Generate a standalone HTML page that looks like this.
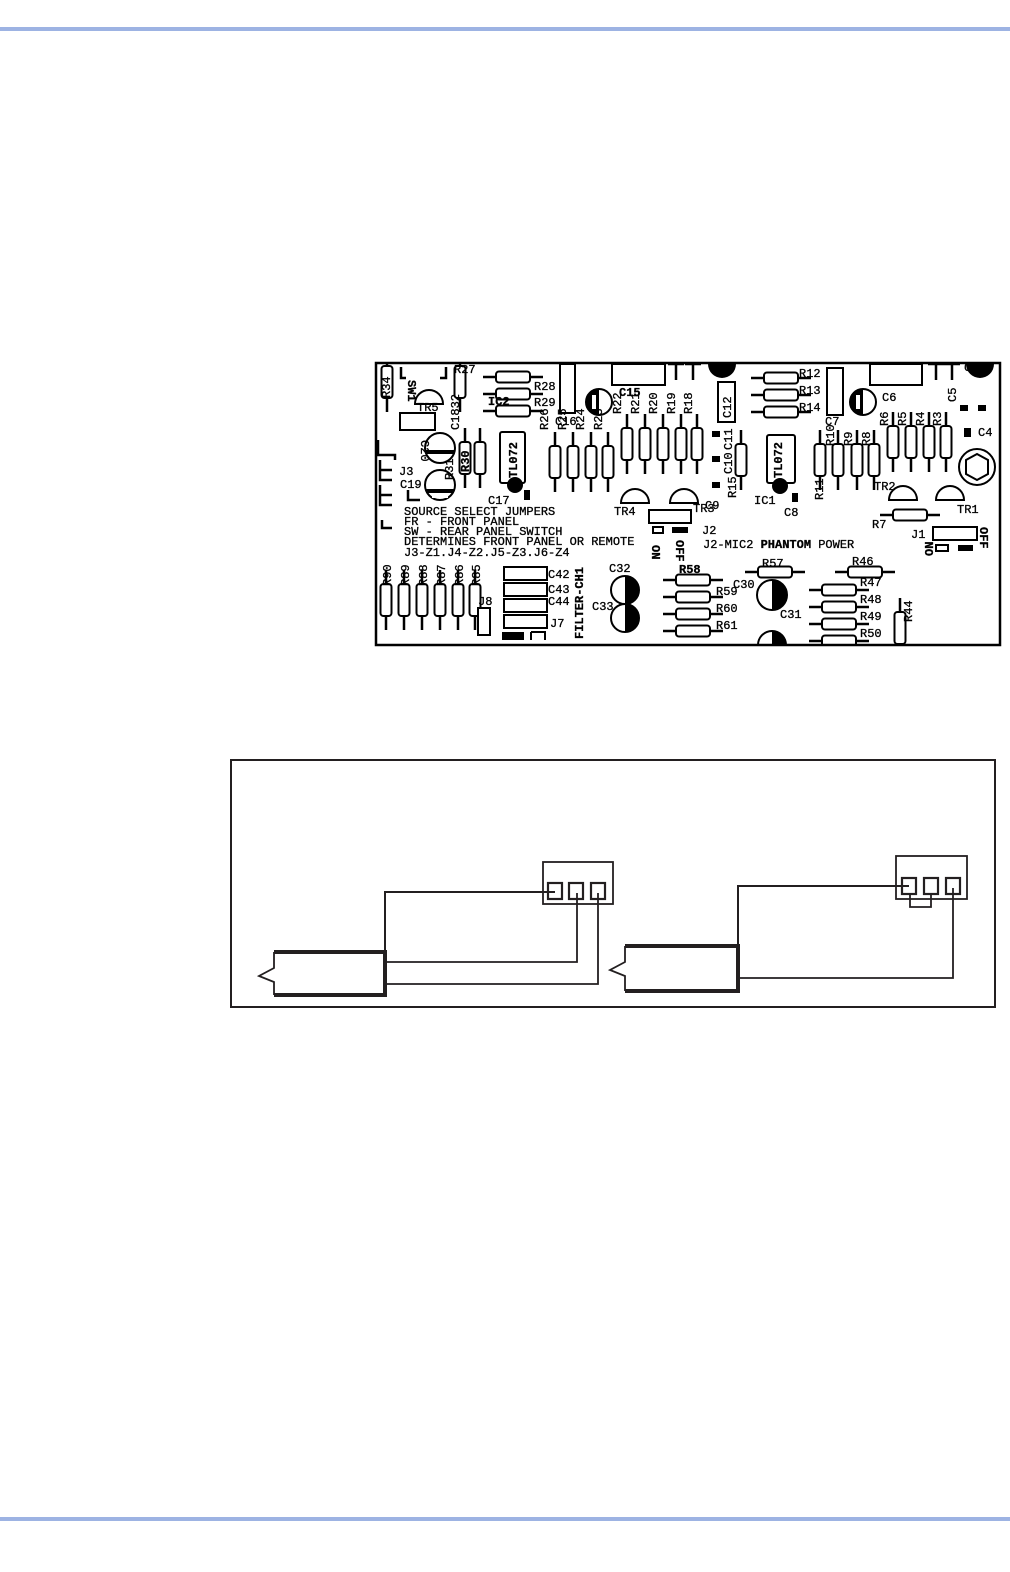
<!DOCTYPE html>
<html><head><meta charset="utf-8"><style>
html,body{margin:0;padding:0;background:#fff;}
body{width:1010px;height:1572px;position:relative;overflow:hidden;}
.bar{position:absolute;left:0;width:1010px;height:4px;background:#9db3e3;}
svg{position:absolute;left:0;top:0;}
text{font-family:"Liberation Mono",monospace;font-size:12px;fill:#000;stroke:#000;stroke-width:0.3;}
</style></head><body>
<div class="bar" style="top:27px"></div>
<div class="bar" style="top:1517px"></div>
<svg width="1010" height="1572" viewBox="0 0 1010 1572">
<defs>
<clipPath id="pcb"><rect x="376" y="363" width="624" height="282"/></clipPath>
<g id="rv"><line x1="0" y1="-30" x2="0" y2="30" stroke="#000" stroke-width="2.5"/><rect x="-5.5" y="-16" width="11" height="32" rx="3" fill="#fff" stroke="#000" stroke-width="2"/></g>
<g id="rh"><line x1="-30" y1="0" x2="30" y2="0" stroke="#000" stroke-width="2.5"/><rect x="-17" y="-5.5" width="34" height="11" rx="3" fill="#fff" stroke="#000" stroke-width="2"/></g>
<g id="tr"><path d="M-14,0 A14,14 0 0 1 14,0 Z" fill="#fff" stroke="#000" stroke-width="2"/></g>
</defs>
<g clip-path="url(#pcb)">
<g fill="none" stroke="#000" stroke-width="2.5">
<path d="M401,367 V378 H406"/><path d="M440,378 H446 V367"/>
<path d="M378,440 V455 H395 V460"/><path d="M380,460 V480 H392"/><path d="M380,470 H392"/>
<path d="M380,485 V505 H392"/><path d="M380,495 H392"/>
<path d="M382,520 V528 H392"/>
<path d="M408,490 V500 H420"/>
<path d="M668,364 H684 M676,364 V380"/><path d="M685,364 H701 M693,364 V380"/>
<path d="M928,364 H944 M936,364 V380"/><path d="M944,364 H960 M952,364 V380"/>
</g>
<use href="#rv" x="387" y="382"/>
<use href="#rv" x="460" y="382"/>
<use href="#rv" x="465" y="458"/><use href="#rv" x="480" y="458"/>
<use href="#rv" x="555" y="462"/><use href="#rv" x="573" y="462"/><use href="#rv" x="591" y="462"/><use href="#rv" x="608" y="462"/>
<use href="#rv" x="627" y="444"/><use href="#rv" x="645" y="444"/><use href="#rv" x="663" y="444"/><use href="#rv" x="681" y="444"/><use href="#rv" x="697" y="444"/>
<use href="#rv" x="741" y="460"/>
<use href="#rv" x="820" y="460"/><use href="#rv" x="838" y="460"/><use href="#rv" x="857" y="460"/><use href="#rv" x="874" y="460"/>
<use href="#rv" x="893" y="442"/><use href="#rv" x="911" y="442"/><use href="#rv" x="929" y="442"/><use href="#rv" x="946" y="442"/>
<use href="#rv" x="386" y="600"/><use href="#rv" x="404" y="600"/><use href="#rv" x="422" y="600"/><use href="#rv" x="440" y="600"/><use href="#rv" x="458" y="600"/><use href="#rv" x="475" y="600"/>
<use href="#rv" x="900" y="628"/>
<use href="#rh" x="513" y="377"/><use href="#rh" x="513" y="394"/><use href="#rh" x="513" y="411"/>
<use href="#rh" x="781" y="378"/><use href="#rh" x="781" y="395"/><use href="#rh" x="781" y="412"/>
<use href="#rh" x="693" y="580"/><use href="#rh" x="693" y="597"/><use href="#rh" x="693" y="614"/><use href="#rh" x="693" y="631"/>
<use href="#rh" x="775" y="572"/><use href="#rh" x="865" y="572"/>
<use href="#rh" x="910" y="515"/>
<use href="#rh" x="839" y="590"/><use href="#rh" x="839" y="607"/><use href="#rh" x="839" y="624"/><use href="#rh" x="839" y="641"/>
<use href="#tr" x="429" y="404"/><use href="#tr" x="635" y="503"/><use href="#tr" x="684" y="503"/><use href="#tr" x="903" y="500"/><use href="#tr" x="950" y="500"/>
<g stroke="#000" stroke-width="2" fill="#fff">
<rect x="400" y="413" width="35" height="17"/>
<rect x="560" y="364" width="15" height="49"/>
<rect x="612" y="364" width="53" height="21"/>
<rect x="718" y="382" width="17" height="40"/>
<rect x="827" y="368" width="16" height="47"/>
<rect x="870" y="364" width="52" height="21"/>
<rect x="649" y="510" width="42" height="13"/>
<rect x="933" y="527" width="44" height="13"/>
<rect x="504" y="567" width="43" height="13"/><rect x="504" y="583" width="43" height="13"/><rect x="504" y="599" width="43" height="13"/><rect x="504" y="615" width="43" height="13"/>
<rect x="478" y="608" width="12" height="27"/>
<rect x="653" y="527" width="10" height="6"/><rect x="936" y="545" width="12" height="6"/>
<rect x="500" y="432" width="25" height="51" rx="2"/>
<rect x="767" y="435" width="28" height="48" rx="2"/>
<circle cx="440" cy="448" r="15"/><circle cx="440" cy="485" r="15"/>
<circle cx="599" cy="402" r="13"/><circle cx="863" cy="402" r="13"/>
<circle cx="625" cy="590" r="14"/><circle cx="625" cy="618" r="14"/>
<circle cx="772" cy="595" r="15"/>
<path d="M758,645 A14,14 0 0 1 786,645"/>
<circle cx="977" cy="467" r="18"/>
<polygon points="977,454 988,460 988,474 977,480 966,474 966,460"/>
<path d="M531,632 H545 V640 M531,632 V640" fill="none"/>
</g>
<g fill="#000">
<rect x="426" y="450" width="28" height="4"/>
<rect x="426" y="489" width="28" height="4"/><rect x="432" y="493" width="16" height="5" fill="#fff"/>
<path d="M599,389 A13,13 0 0 0 599,415 Z"/><rect x="592" y="395" width="4" height="14" fill="#fff"/>
<path d="M863,389 A13,13 0 0 0 863,415 Z"/><rect x="856" y="395" width="4" height="14" fill="#fff"/>
<path d="M625,576 A14,14 0 0 1 625,604 Z"/><path d="M625,604 A14,14 0 0 1 625,632 Z"/>
<path d="M772,580 A15,15 0 0 1 772,610 Z"/><path d="M772,631 A14,14 0 0 1 786,645 H772 Z"/>
<path d="M708,364 A14,14 0 0 0 736,364 Z"/><path d="M966,364 A14,14 0 0 0 994,364 Z"/>
<circle cx="515" cy="485" r="8"/><circle cx="780" cy="486" r="8"/>
<rect x="524" y="490" width="6" height="10"/>
<rect x="712" y="431" width="8" height="6"/><rect x="712" y="456" width="8" height="6"/><rect x="712" y="482" width="8" height="6"/>
<rect x="792" y="493" width="6" height="9"/>
<rect x="672" y="527" width="16" height="6"/><rect x="958" y="545" width="15" height="6"/>
<rect x="960" y="405" width="8" height="6"/><rect x="978" y="405" width="8" height="6"/>
<rect x="964" y="428" width="7" height="9"/>
<rect x="502" y="632" width="22" height="8"/>
</g>
</g>
<rect x="376" y="363" width="624" height="282" stroke="#000" stroke-width="2.5" fill="none"/>
<g>
<text x="454" y="373">R27</text>
<text transform="translate(390,398) rotate(-90)">R34</text>
<text transform="translate(408,380) rotate(90)" font-weight="bold">SW1</text>
<text x="417" y="411" font-size="11">TR5</text>
<text transform="translate(459,430) rotate(-90)">C1832</text>
<text transform="translate(421,440) rotate(90)">C20</text>
<text transform="translate(453,480) rotate(-90)">R31</text>
<text transform="translate(469,472) rotate(-90)" font-weight="bold">R30</text>
<text x="399" y="475" font-size="17">J3</text>
<text x="400" y="488" font-size="13">C19</text>
<text x="488" y="405" font-size="13" font-weight="bold">IC2</text>
<text transform="translate(517,478) rotate(-90)" font-size="13" font-weight="bold">TL072</text>
<text transform="translate(782,478) rotate(-90)" font-size="13" font-weight="bold">TL072</text>
<text x="488" y="504">C17</text>
<text x="534" y="390">R28</text><text x="534" y="406">R29</text>
<text x="555" y="425">C16</text>
<text x="619" y="396" font-weight="bold" font-size="13">C15</text>
<text transform="translate(548,430) rotate(-90)">R26</text><text transform="translate(566,430) rotate(-90)">R25</text><text transform="translate(584,430) rotate(-90)">R24</text><text transform="translate(602,430) rotate(-90)">R23</text>
<text transform="translate(621,414) rotate(-90)">R22</text><text transform="translate(639,414) rotate(-90)">R21</text><text transform="translate(657,414) rotate(-90)">R20</text><text transform="translate(675,414) rotate(-90)">R19</text><text transform="translate(692,414) rotate(-90)">R18</text>
<text transform="translate(731,418) rotate(-90)">C12</text>
<text transform="translate(732,450) rotate(-90)">C11</text>
<text transform="translate(732,474) rotate(-90)">C10</text>
<text transform="translate(736,498) rotate(-90)">R15</text>
<text x="705" y="509">C9</text>
<text x="693" y="512" font-size="11">TR3</text>
<text x="614" y="515" font-size="11">TR4</text>
<text x="702" y="534" font-size="13">J2</text>
<text x="754" y="504" font-size="13">IC1</text>
<text x="784" y="516" font-size="13">C8</text>
<text x="799" y="377">R12</text><text x="799" y="394">R13</text><text x="799" y="411">R14</text>
<text x="825" y="425" font-size="13">C7</text>
<text x="882" y="401" font-size="13">C6</text>
<text x="964" y="371" font-size="13">C3</text>
<text transform="translate(956,402) rotate(-90)">C5</text>
<text x="978" y="436" font-size="13">C4</text>
<text transform="translate(834,446) rotate(-90)">R10</text><text transform="translate(852,446) rotate(-90)">R9</text><text transform="translate(870,446) rotate(-90)">R8</text>
<text transform="translate(823,500) rotate(-90)">R11</text>
<text transform="translate(888,426) rotate(-90)">R6</text><text transform="translate(906,426) rotate(-90)">R5</text><text transform="translate(924,426) rotate(-90)">R4</text><text transform="translate(941,426) rotate(-90)">R3</text>
<text x="874" y="490" font-size="11">TR2</text>
<text x="957" y="513" font-size="11">TR1</text>
<text x="872" y="528" font-size="11">R7</text>
<text x="911" y="538" font-size="13">J1</text>
<text transform="translate(933,556) rotate(-90)" font-weight="bold">ON</text>
<text transform="translate(980,527) rotate(90)" font-weight="bold">OFF</text>
<text transform="translate(652,545) rotate(90)" font-weight="bold">ON</text>
<text transform="translate(676,540) rotate(90)" font-weight="bold">OFF</text>
<g font-size="11.6">
<text x="404" y="515" font-size="11.6">SOURCE SELECT JUMPERS</text>
<text x="404" y="525" font-size="11.6">FR - FRONT PANEL</text>
<text x="404" y="535" font-size="11.6">SW - REAR PANEL SWITCH</text>
<text x="404" y="545" font-size="11.6">DETERMINES FRONT PANEL OR REMOTE</text>
<text x="404" y="556" font-size="11.6">J3-Z1.J4-Z2.J5-Z3.J6-Z4</text>
</g>
<text x="703" y="548" font-size="12.5">J2-MIC2 <tspan font-weight="bold">PHANTOM</tspan> POWER</text>
<text transform="translate(391,586) rotate(-90)">R90</text><text transform="translate(409,586) rotate(-90)">R89</text><text transform="translate(427,586) rotate(-90)">R88</text><text transform="translate(445,586) rotate(-90)">R87</text><text transform="translate(463,586) rotate(-90)">R86</text><text transform="translate(480,586) rotate(-90)">R85</text>
<text x="548" y="578" font-size="13">C42</text><text x="548" y="593" font-size="13">C43</text><text x="548" y="605" font-size="13">C44</text>
<text x="550" y="627" font-size="13">J7</text>
<text x="478" y="605" font-size="13">J8</text>
<text transform="translate(583,639) rotate(-90)" font-size="13" font-weight="bold">FILTER-CH1</text>
<text x="609" y="572" font-size="13">C32</text>
<text x="592" y="610" font-size="13">C33</text>
<text x="679" y="573" font-weight="bold" font-size="13">R58</text>
<text x="716" y="595" font-size="13">R59</text><text x="716" y="612" font-size="13">R60</text><text x="716" y="629" font-size="13">R61</text>
<text x="762" y="567" font-size="13">R57</text><text x="852" y="565" font-size="13">R46</text>
<text x="733" y="588" font-size="13">C30</text><text x="780" y="618" font-size="13">C31</text>
<text x="860" y="586" font-size="13">R47</text><text x="860" y="603" font-size="13">R48</text><text x="860" y="620" font-size="13">R49</text><text x="860" y="637" font-size="13">R50</text>
<text transform="translate(912,622) rotate(-90)">R44</text>
</g>
<g fill="none" stroke="#231f20">
<rect x="231" y="760" width="764" height="247" stroke-width="2"/>
<rect x="543" y="862" width="70" height="42" stroke-width="1.8"/>
<rect x="548" y="883" width="14" height="16" stroke-width="2.2"/>
<rect x="569" y="883" width="14" height="16" stroke-width="2.2"/>
<rect x="591" y="883" width="14" height="16" stroke-width="2.2"/>
<path d="M555,892 H385 V952" stroke-width="2"/>
<path d="M577,893 V962 H385" stroke-width="1.8"/>
<path d="M598,893 V984 H385" stroke-width="1.8"/>
<path d="M274,952 H385 V995 H274" stroke-width="4"/>
<path d="M274,952 V968 L259,976 L274,982 V995" stroke-width="1.8"/>
<rect x="896" y="856" width="71" height="43" stroke-width="1.8"/>
<rect x="902" y="878" width="14" height="16" stroke-width="2.2"/>
<rect x="924" y="878" width="14" height="16" stroke-width="2.2"/>
<rect x="946" y="878" width="14" height="16" stroke-width="2.2"/>
<path d="M909,886 H738 V946" stroke-width="2"/>
<path d="M910,894 V907 H931 V894" stroke-width="1.8"/>
<path d="M953,888 V978 H738" stroke-width="1.8"/>
<path d="M625,946 H738 V991 H625" stroke-width="4"/>
<path d="M625,946 V962 L610,970 L625,976 V991" stroke-width="1.8"/>
</g>
</svg>
</body></html>
